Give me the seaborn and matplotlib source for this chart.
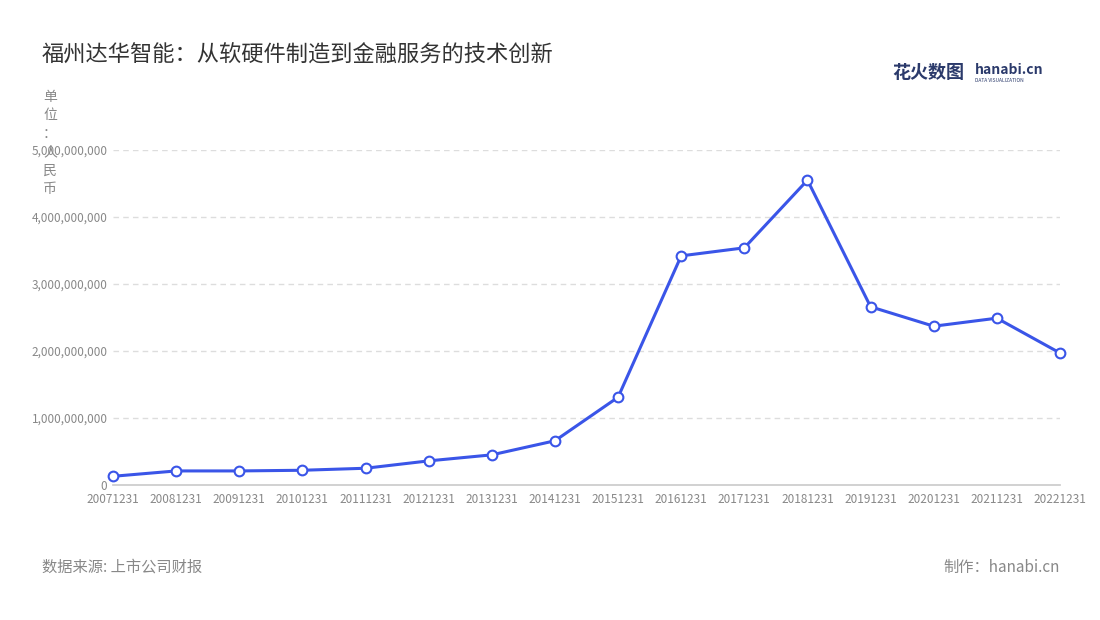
import matplotlib
matplotlib.use("Agg")
import matplotlib.pyplot as plt
import seaborn as sns
import pandas as pd

years = ["20071231","20081231","20091231","20101231","20111231","20121231","20131231","20141231",
         "20151231","20161231","20171231","20181231","20191231","20201231","20211231","20221231"]
values = [0.13e9,0.21e9,0.21e9,0.22e9,0.25e9,0.36e9,0.45e9,0.66e9,
          1.31e9,3.42e9,3.54e9,4.55e9,2.66e9,2.37e9,2.49e9,1.97e9]
yticks = [0,1e9,2e9,3e9,4e9,5e9]

sns.set_theme(style="white")
plt.rcParams['font.family'] = ['Noto Sans CJK SC', 'DejaVu Sans']

df = pd.DataFrame({"x": range(len(years)), "v": values})
fig = plt.figure(figsize=(11, 6.2), dpi=100)
ax = fig.add_axes([113/1100, 1-485/620, (1060-113)/1100, (485-150)/620])
sns.lineplot(data=df, x="x", y="v", ax=ax, color="#3a55e8", linewidth=2.2,
             marker="o", markersize=7, markerfacecolor="white",
             markeredgecolor="#3a55e8", markeredgewidth=1.5, clip_on=False, zorder=5)
ax.set_xlim(0, len(years)-1)
ax.set_ylim(0, 5e9)
ax.set_xticks(range(len(years)))
ax.set_xticklabels(years, fontsize=8.5, color="#888888")
ax.set_yticks(yticks)
ax.set_yticklabels([f"{int(t):,}" for t in yticks], fontsize=8.5, color="#888888")
for t in yticks[1:]:
    ax.axhline(t, color="#dddddd", linestyle=(0, (4, 3)), linewidth=1, zorder=0)
for s in ["top", "right", "left"]:
    ax.spines[s].set_visible(False)
ax.spines["bottom"].set_color("#cccccc")
ax.tick_params(axis="x", length=4, color="#cccccc", pad=2)
ax.tick_params(axis="y", length=0, pad=4)
ax.set_xlabel(""); ax.set_ylabel("")

fig.text(42/1100, 1-55/620, "福州达华智能：从软硬件制造到金融服务的技术创新", fontsize=16, color="#333333", va="center")
fig.text(50/1100, 1-90/620, "单\n位\n：\n人\n民\n币", fontsize=10, color="#888888", va="top", ha="center", linespacing=1.4)
fig.text(42/1100, 1-567/620, "数据来源: 上市公司财报", fontsize=11, color="#888888", va="center")
fig.text(1060/1100, 1-567/620, "制作：hanabi.cn", fontsize=11, color="#888888", va="center", ha="right")
fig.text(892/1100, 1-72/620, "花火数图", fontsize=13, color="#2b3a6b", va="center", fontweight="bold")
fig.text(975/1100, 1-70/620, "hanabi.cn", fontsize=10, color="#2b3a6b", va="center", fontweight="bold")
fig.text(975/1100, 1-80/620, "DATA VISUALIZATION", fontsize=3.5, color="#2b3a6b", va="center")
fig.savefig("out.png", dpi=100)
